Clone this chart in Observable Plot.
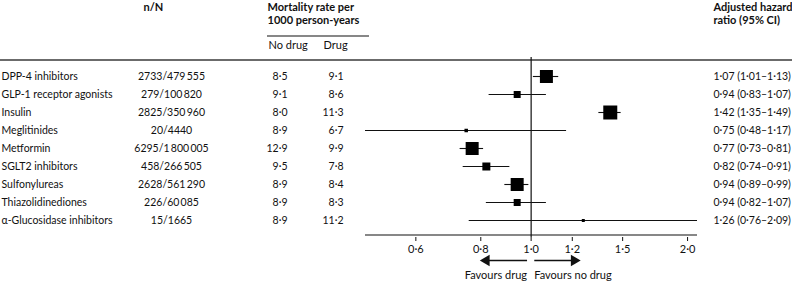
<!DOCTYPE html>
<html>
<head>
<meta charset="utf-8">
<script src="https://cdn.jsdelivr.net/npm/d3@7"></script>
<script src="https://cdn.jsdelivr.net/npm/@observablehq/plot@0.6"></script>
<style>
  html, body { margin: 0; padding: 0; background: #fff; }
  svg { display: block; }
</style>
</head>
<body>
<div id="chart"></div>
<script>
// ---- data ----
const drugs = ["DPP-4 inhibitors", "GLP-1 receptor agonists", "Insulin", "Meglitinides", "Metformin",
  "SGLT2 inhibitors", "Sulfonylureas", "Thiazolidinediones", "α-Glucosidase inhibitors"];
const events = [2733, 279, 2825, 20, 6295, 458, 2628, 226, 15];
const totals = [479555, 100820, 350960, 4440, 1800005, 266505, 561290, 60085, 1665];
const rateNoDrug = [8.5, 9.1, 8.0, 8.9, 12.9, 9.5, 8.9, 8.9, 8.9];
const rateDrug = [9.1, 8.6, 11.3, 6.7, 9.9, 7.8, 8.4, 8.3, 11.2];
const hr = [1.07, 0.94, 1.42, 0.75, 0.77, 0.82, 0.94, 0.94, 1.26];
const hrLow = [1.01, 0.83, 1.35, 0.48, 0.73, 0.74, 0.89, 0.82, 0.76];
const hrHigh = [1.13, 1.07, 1.49, 1.17, 0.81, 0.91, 0.99, 1.07, 2.09];
// relative weight of each estimate (square side as read)
const weights = [13, 7, 14, 3.5, 13, 8, 13, 7, 3];
const xTicks = [0.6, 0.8, 1.0, 1.2, 1.5, 2.0];
const xDomain = [0.48, 2.09];
const favourLeft = [{label: "Favours drug", from: 0.982, to: 0.82}];
const favourRight = [{label: "Favours no drug", from: 1.014, to: 1.21}];

// ---- helpers ----
const dot = (v, d) => v.toFixed(d).replace(".", "\u00b7");
const thin = n => n >= 10000 ? String(n).replace(/\B(?=(\d{3})+(?!\d))/g, "\u2009") : String(n);

const rows = drugs.map((d, i) => ({
  drug: d,
  nN: `${thin(events[i])}/${thin(totals[i])}`,
  noDrug: dot(rateNoDrug[i], 1),
  withDrug: dot(rateDrug[i], 1),
  hr: hr[i], lo: hrLow[i], hi: hrHigh[i], w: weights[i],
  hrText: `${dot(hr[i], 2)} (${dot(hrLow[i], 2)}\u2013${dot(hrHigh[i], 2)})`
}));
const first = drugs[0], last = drugs[drugs.length - 1];

const W = 792, H = 285, ML = 365, MR = 95, MT = 57, MB = 48;
const Y0 = 72.5, Y1 = 223;
const ink = "#111";
const font = "Lato, 'Liberation Sans', sans-serif";

const headerText = (text, dx, dy, opts = {}) =>
  Plot.text([text], {text: d => d, frameAnchor: "top-left", textAnchor: "start", lineAnchor: "bottom",
    dx, dy, fill: ink, lineHeight: 13 / 11, ...opts});

const arrowMarks = (data, anchor, rot) => [
  Plot.link(data, {x1: "from", x2: "to", y1: () => last, y2: () => last, dy: 263 - Y1, stroke: ink, strokeWidth: 1.3}),
  Plot.dot(data, {x: "to", y: () => last, dy: 263 - Y1, symbol: "triangle", r: 4.2, fill: ink, stroke: "none", rotate: rot}),
  Plot.text(data, {x: "from", y: () => last, dy: 281 - Y1, text: "label", fill: ink, textAnchor: anchor, lineAnchor: "bottom", fontSize: 11})
];

const chart = Plot.plot({
  width: W, height: H,
  marginLeft: ML, marginRight: MR, marginTop: MT, marginBottom: MB,
  style: {fontFamily: font, fontSize: "10.5px", color: ink, background: "#fff"},
  x: {type: "log", domain: xDomain, label: null},
  y: {type: "point", domain: drugs, range: [Y0, Y1], padding: 0, axis: null},
  r: {type: "linear", domain: [0, 1], range: [0, 1 / Math.sqrt(Math.PI)]},
  marks: [
    // header separator (full width) and sub-rule
    Plot.ruleY([first], {dy: 56 - Y0, insetLeft: -ML, insetRight: -MR, stroke: "#6b6b6b", strokeWidth: 2}),
    Plot.ruleY([first], {dy: 32 - Y0, insetLeft: 267 - ML, insetRight: (W - MR) - 369, stroke: ink, strokeWidth: 1.2}),
    // axis baseline
    Plot.ruleY([last], {dy: 237.5 - Y1, stroke: ink, strokeWidth: 1.2}),
    // reference line
    Plot.ruleX([1], {stroke: ink, strokeWidth: 1.2}),
    // confidence intervals and estimates
    Plot.ruleY(rows, {y: "drug", x1: "lo", x2: "hi", stroke: ink, strokeWidth: 1.1}),
    Plot.dot(rows, {x: "hr", y: "drug", r: "w", symbol: "square", fill: "#000", stroke: "none"}),
    Plot.axisX({anchor: "bottom", ticks: xTicks, tickFormat: d => dot(d, 1), tickSize: 4, tickPadding: 4,
      fontSize: 11, stroke: ink, fill: ink, label: null}),
    // favours arrows
    ...arrowMarks(favourLeft, "end", -90),
    ...arrowMarks(favourRight, "start", 90),
    // table columns
    Plot.text(rows, {y: "drug", text: "drug", frameAnchor: "left", dx: 1 - ML, textAnchor: "start", fill: ink}),
    Plot.text(rows, {y: "drug", text: "nN", frameAnchor: "left", dx: 171 - ML, textAnchor: "middle", fill: ink}),
    Plot.text(rows, {y: "drug", text: "noDrug", frameAnchor: "left", dx: 287 - ML, textAnchor: "end", fill: ink}),
    Plot.text(rows, {y: "drug", text: "withDrug", frameAnchor: "left", dx: 343 - ML, textAnchor: "end", fill: ink}),
    Plot.text(rows, {y: "drug", text: "hrText", frameAnchor: "right", dx: 713 - (W - MR), textAnchor: "start", fill: ink}),
    // headers
    headerText("n/N", 143 - ML, 10.5 - MT, {fontWeight: "bold", fontSize: 11}),
    headerText("Mortality rate per\n1000 person-years", 267 - ML, 23.5 - MT, {fontWeight: "bold", fontSize: 11}),
    headerText("No drug", 268 - ML, 48 - MT, {fontSize: 11}),
    headerText("Drug", 323 - ML, 48 - MT, {fontSize: 11}),
    headerText("Adjusted hazard\nratio (95% CI)", 713 - ML, 23.5 - MT, {fontWeight: "bold", fontSize: 11})
  ]
});
document.getElementById("chart").appendChild(chart);
</script>
</body>
</html>
